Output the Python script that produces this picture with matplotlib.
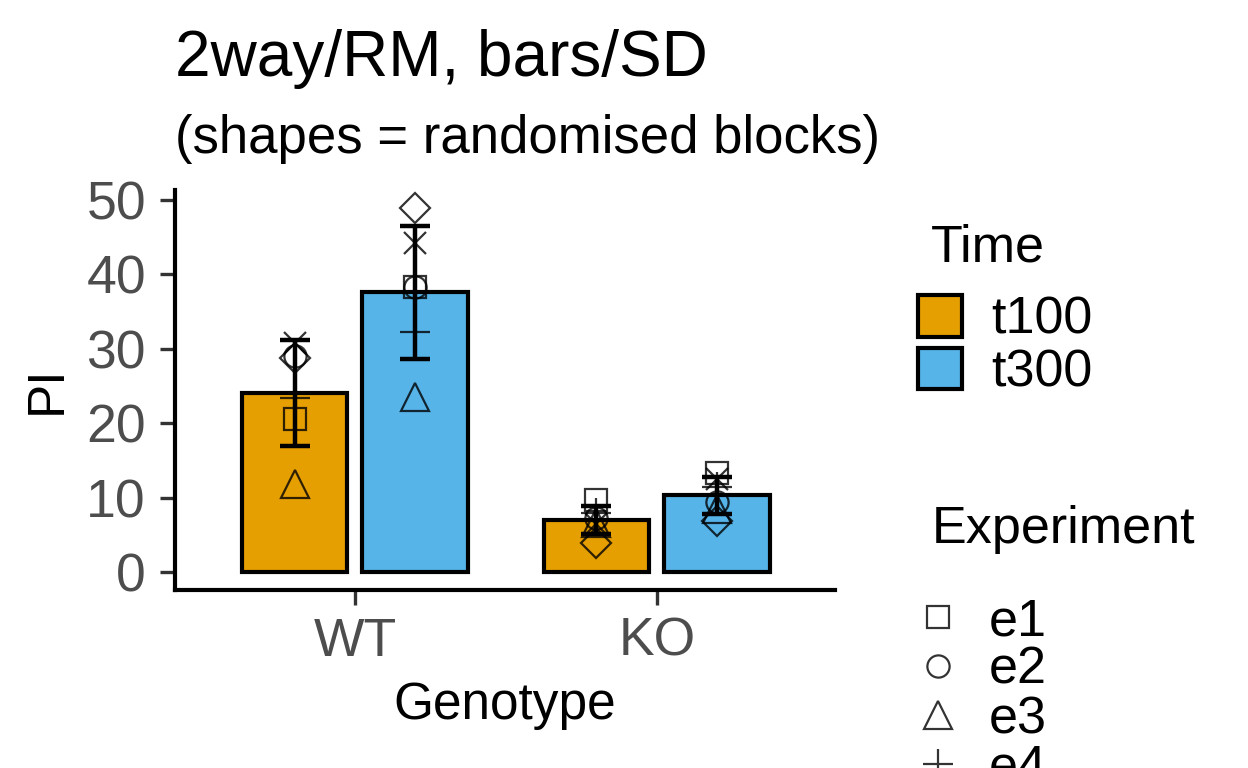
import numpy as np
import matplotlib
matplotlib.use("Agg")
import matplotlib.pyplot as plt
from matplotlib.patches import Patch
from matplotlib.lines import Line2D

plt.rcParams['font.family'] = ['Liberation Sans', 'DejaVu Sans']

genotypes = ["WT", "KO"]
times = ["t100", "t300"]
experiments = ["e1", "e2", "e3", "e4", "e5", "e6"]

# PI for each experiment e1..e6
pi_values = {
    ("WT", "t100"): [20.6, 29.0, 11.8, 23.4, 30.8, 28.8],
    ("WT", "t300"): [38.3, 38.3, 23.5, 32.3, 44.2, 48.9],
    ("KO", "t100"): [9.7, 7.2, 6.6, 8.0, 6.5, 3.9],
    ("KO", "t300"): [13.3, 9.4, 8.5, 11.4, 12.5, 6.8],
}

time_colors = {"t100": "#E69F00", "t300": "#56B4E9"}
exp_markers = {"e1": ("s", 16), "e2": ("o", 16), "e3": ("^", 20),
               "e4": ("+", 22), "e5": ("x", 16), "e6": ("D", 15)}
dodge = {"t100": -0.2, "t300": 0.2}
bar_w = 0.35

W, H = 1248, 768
fig = plt.figure(figsize=(W / 100, H / 100), dpi=100)
ax = fig.add_axes([175 / W, 1 - 590 / H, 660 / W, 400 / H])

for gi, g in enumerate(genotypes):
    xc = gi + 1
    for t in times:
        vals = np.array(pi_values[(g, t)])
        x = xc + dodge[t]
        mean = vals.mean()
        sd = vals.std(ddof=1)
        ax.bar(x, mean, width=bar_w, color=time_colors[t], edgecolor="black",
               linewidth=3, zorder=2)
        for e, v in zip(experiments, vals):
            m, ms = exp_markers[e]
            ax.plot(x, v, marker=m, ms=ms, mfc="none", mec="black", mew=1.6,
                    alpha=0.8, linestyle="none", zorder=3)
        ax.errorbar(x, mean, yerr=sd, fmt="none", ecolor="black",
                    elinewidth=3.2, capsize=11, capthick=3.2, zorder=4)

ax.set_xlim(0.404, 2.59)
ax.set_ylim(-2.4, 51.3)
ax.set_xticks([1, 2])
ax.set_xticklabels(genotypes)
ax.set_yticks([0, 10, 20, 30, 40, 50])
for s in ["top", "right"]:
    ax.spines[s].set_visible(False)
for s in ["left", "bottom"]:
    ax.spines[s].set_linewidth(3)
ax.tick_params(axis="both", length=10.5, width=2.4, color="#333333",
               labelcolor="#4D4D4D", labelsize=38.5)
ax.tick_params(axis="x", pad=8.6)
ax.tick_params(axis="y", pad=10.4)
ax.set_xlabel("Genotype", fontsize=37, va="baseline")
ax.xaxis.set_label_coords(0.5, -(719 - 590) / 400)
ax.set_ylabel("PI", fontsize=37, va="center", ha="center")
ax.yaxis.set_label_coords((47 - 175) / 660, 0.5)

fig.text(175 / W, 1 - 76 / H, "2way/RM, bars/SD", fontsize=46,
         ha="left", va="baseline")
fig.text(175 / W, 1 - 153 / H, "(shapes = randomised blocks)", fontsize=38,
         ha="left", va="baseline")

# legend titles
fig.text(931 / W, 1 - 262 / H, "Time", fontsize=37.5, ha="left", va="baseline")
fig.text(932 / W, 1 - 543 / H, "Experiment", fontsize=37.5, ha="left",
         va="baseline")

time_handles = [Patch(facecolor=time_colors[t], edgecolor="black", linewidth=3)
                for t in times]
leg1 = fig.legend(time_handles, times, loc="upper left",
                  bbox_to_anchor=(918 / W, 1 - 295 / H), frameon=False,
                  fontsize=37.5, handlelength=0.85, handleheight=0.85,
                  labelspacing=0.06, handletextpad=0.55, borderpad=0,
                  borderaxespad=0)

exp_handles = [Line2D([], [], marker=exp_markers[e][0], ms=exp_markers[e][1],
                      mfc="none", mec="black", mew=1.6, alpha=0.8,
                      linestyle="none") for e in experiments]
leg2 = fig.legend(exp_handles, experiments, loc="upper left",
                  bbox_to_anchor=(916 / W, 1 - 597 / H), frameon=False,
                  fontsize=37.5, handlelength=0.85, labelspacing=0.0,
                  handletextpad=0.55, borderpad=0, borderaxespad=0)

fig.savefig("out.png", dpi=100)
